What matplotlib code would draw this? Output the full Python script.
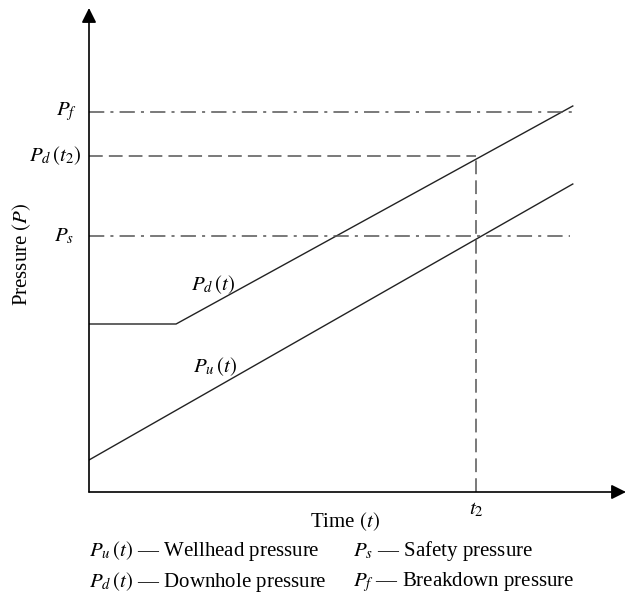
import matplotlib.pyplot as plt

plt.rcParams['font.family'] = ['Liberation Serif', 'DejaVu Serif']
plt.rcParams['mathtext.fontset'] = 'stix'

# schematic values (arbitrary units)
pd_t = [0.0, 1.8, 10.0]
pd_p = [4.2, 4.2, 9.65]
pu_t = [0.0, 10.0]
pu_p = [0.8, 7.7]
t2 = 8.0
p_f = 9.5
p_d_t2 = 8.4
p_s = 6.4
xmax, ymax = 11.1, 12.1

fig = plt.figure(figsize=(6.26, 5.99), dpi=100)
ax = fig.add_axes([89 / 626, 107 / 599, (626 - 89) / 626, (492 - 8) / 599])
ax.set_xlim(0, xmax)
ax.set_ylim(0, ymax)
ax.axis('off')

line_kw = dict(color='#222222', lw=1.0)
ax.plot(pd_t, pd_p, **line_kw)
ax.plot(pu_t, pu_p, **line_kw)

ref_kw = dict(color='#555555', lw=1.1)
ax.plot([0, 10.0], [p_f, p_f], dashes=(10, 4, 2, 4), **ref_kw)
ax.plot([0, 9.95], [p_s, p_s], dashes=(10, 4, 2, 4), **ref_kw)
ax.plot([0, t2], [p_d_t2, p_d_t2], dashes=(9, 4), **ref_kw)
ax.plot([t2, t2], [0, p_d_t2], dashes=(9, 4), **ref_kw)

# axes with arrow heads
arrow = dict(arrowstyle='-|>', color='black', lw=1.2, mutation_scale=22,
             shrinkA=0, shrinkB=0)
ax.annotate('', xy=(xmax, 0), xytext=(0, 0), arrowprops=arrow, annotation_clip=False)
ax.annotate('', xy=(0, ymax), xytext=(0, 0), arrowprops=arrow, annotation_clip=False)

fs = 15
ax.text(-0.25, p_f, r'$P_f$', ha='right', va='center', fontsize=fs)
ax.text(-0.15, p_d_t2, r'$P_d\,(t_2)$', ha='right', va='center', fontsize=fs)
ax.text(-0.3, p_s, r'$P_s$', ha='right', va='center', fontsize=fs)
ax.text(2.1, 4.9, r'$P_d\,(t)$', ha='left', va='bottom', fontsize=fs)
ax.text(2.15, 2.85, r'$P_u\,(t)$', ha='left', va='bottom', fontsize=fs)
ax.text(t2, -0.2, r'$t_2$', ha='center', va='top', fontsize=fs)

tfs = 15
fig.text(345 / 626, 1 - 522 / 599, r'Time $(t)$', ha='center', va='center', fontsize=tfs)
fig.text(22 / 626, 1 - 254 / 599, r'Pressure $(P)$', ha='center', va='center',
         rotation=90, fontsize=tfs)

fig.text(89 / 626, 1 - 551 / 599, r'$P_u\,(t)$ — Wellhead pressure', ha='left',
         va='center', fontsize=tfs)
fig.text(353 / 626, 1 - 551 / 599, r'$P_s$ — Safety pressure', ha='left',
         va='center', fontsize=tfs)
fig.text(89 / 626, 1 - 582 / 599, r'$P_d\,(t)$ — Downhole pressure', ha='left',
         va='center', fontsize=tfs)
fig.text(353 / 626, 1 - 582 / 599, r'$P_f$ — Breakdown pressure', ha='left',
         va='center', fontsize=tfs)

fig.savefig('out.png', dpi=100)
